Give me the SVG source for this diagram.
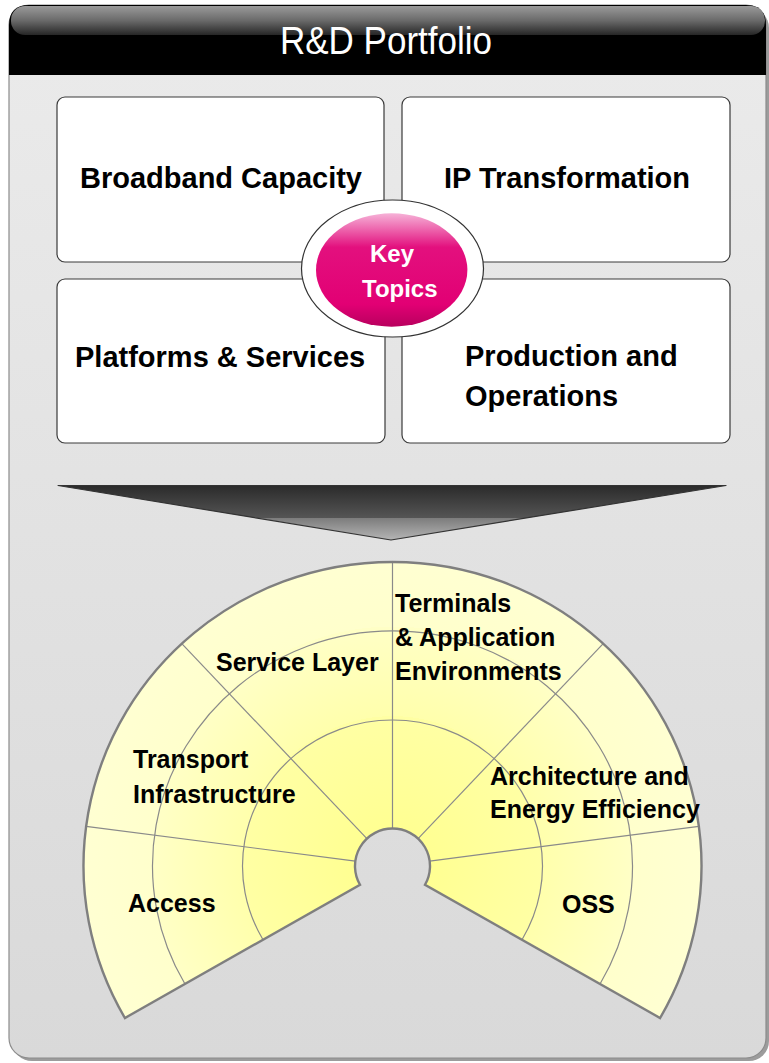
<svg xmlns="http://www.w3.org/2000/svg" width="769" height="1063" viewBox="0 0 769 1063">
  <defs>
    <linearGradient id="gPanel" x1="0" y1="0" x2="0" y2="1">
      <stop offset="0" stop-color="#EBEBEB"/>
      <stop offset="1" stop-color="#D9D9D9"/>
    </linearGradient>
    <linearGradient id="gGloss" x1="0" y1="0" x2="0" y2="1">
      <stop offset="0" stop-color="#9A9A9A"/>
      <stop offset="0.5" stop-color="#6A6A6A"/>
      <stop offset="1" stop-color="#262626"/>
    </linearGradient>
    <linearGradient id="gArrow" x1="0" y1="485" x2="0" y2="540" gradientUnits="userSpaceOnUse">
      <stop offset="0" stop-color="#2A2A2A"/>
      <stop offset="0.6" stop-color="#555555"/>
      <stop offset="0.6" stop-color="#7C7C7C"/>
      <stop offset="1" stop-color="#B5B5B5"/>
    </linearGradient>
    <linearGradient id="gKey" x1="0" y1="213" x2="0" y2="327" gradientUnits="userSpaceOnUse">
      <stop offset="0" stop-color="#F6B3D8"/>
      <stop offset="0.3" stop-color="#E3107E"/>
      <stop offset="0.8" stop-color="#E20074"/>
      <stop offset="1" stop-color="#B8005E"/>
    </linearGradient>
    <radialGradient id="gFan" cx="392.5" cy="866" r="309" fx="392.5" fy="866" gradientUnits="userSpaceOnUse">
      <stop offset="0.12" stop-color="#FFFF92"/>
      <stop offset="0.485" stop-color="#FFFFA4"/>
      <stop offset="0.485" stop-color="#FFFFAC"/>
      <stop offset="0.775" stop-color="#FFFFC6"/>
      <stop offset="0.775" stop-color="#FFFFCC"/>
      <stop offset="1" stop-color="#FFFFD2"/>
    </radialGradient>
    <style>
      .box { fill: #FFFFFF; stroke: #3A3A3A; stroke-width: 1.2; }
      .boxtxt { font-family: "Liberation Sans", Arial, sans-serif; font-weight: bold; font-size: 29px; fill: #000000; }
      .fantxt { font-family: "Liberation Sans", Arial, sans-serif; font-weight: bold; font-size: 25px; fill: #000000; }
      .keytxt { font-family: "Liberation Sans", Arial, sans-serif; font-weight: bold; font-size: 24px; fill: #FFFFFF; }
      .ring { fill: none; stroke: #8A8A8A; stroke-width: 1.2; }
      .div { stroke: #8A8A8A; stroke-width: 1.2; }
    </style>
  </defs>

  <g id="panel">
    <rect x="12" y="8" width="757" height="1053" rx="20" fill="#9C9C9C"/>
    <rect x="9" y="5" width="757" height="1053" rx="20" fill="url(#gPanel)" stroke="#8C8C8C" stroke-width="1.2"/>
  </g>

  <g id="header">
    <path d="M 9 75 L 9 25 Q 9 5 29 5 L 746 5 Q 766 5 766 25 L 766 75 Z" fill="#000000"/>
    <rect x="11" y="6" width="754" height="29" rx="14" fill="url(#gGloss)"/>
    <text x="280" y="54" font-family="Liberation Sans, Arial, sans-serif" font-size="39" fill="#FFFFFF" textLength="212" lengthAdjust="spacingAndGlyphs">R&amp;D Portfolio</text>
  </g>

  <g id="node-broadband">
    <rect class="box" x="57" y="97" width="327" height="165" rx="8"/>
    <text class="boxtxt" x="221" y="188" text-anchor="middle">Broadband Capacity</text>
  </g>
  <g id="node-ip">
    <rect class="box" x="402" y="97" width="328" height="165" rx="8"/>
    <text class="boxtxt" x="444" y="188">IP Transformation</text>
  </g>
  <g id="node-platforms">
    <rect class="box" x="57" y="279" width="328" height="164" rx="8"/>
    <text class="boxtxt" x="75" y="367">Platforms &amp; Services</text>
  </g>
  <g id="node-production">
    <rect class="box" x="402" y="279" width="328" height="164" rx="8"/>
    <text class="boxtxt" x="465" y="366">Production and</text>
    <text class="boxtxt" x="465" y="406">Operations</text>
  </g>

  <g id="node-keytopics">
    <ellipse cx="392.5" cy="268.5" rx="91" ry="68.5" fill="#FFFFFF" stroke="#333333" stroke-width="1.2"/>
    <ellipse cx="391.7" cy="270" rx="75.7" ry="56.7" fill="url(#gKey)"/>
    <text class="keytxt" x="370" y="262">Key</text>
    <text class="keytxt" x="362" y="297">Topics</text>
  </g>

  <g id="connectors">
    <path d="M 58 485.5 L 726 485.5 L 391 540 Z" fill="url(#gArrow)" stroke="#333333" stroke-width="1.2" stroke-linejoin="round"/>
  </g>

  <g id="fan">
    <path d="M 124.9 1018 A 309 304 0 1 1 660.1 1018 L 425 884.75 A 37.5 37.5 0 1 0 360 884.75 Z" fill="url(#gFan)"/>
    <path class="ring" d="M 184.7 983.5 A 240 235 0 1 1 600.3 983.5"/>
    <path class="ring" d="M 262.6 939 A 150 146 0 1 1 522.4 939"/>
    <line class="div" x1="429.7" y1="861.1" x2="698.9" y2="826.3"/>
    <line class="div" x1="355.3" y1="861.1" x2="86.1" y2="826.3"/>
    <line class="div" x1="418.1" y1="838.6" x2="603.2" y2="643.7"/>
    <line class="div" x1="366.9" y1="838.6" x2="181.8" y2="643.7"/>
    <line class="div" x1="392.5" y1="828.5" x2="392.5" y2="562"/>
    <path d="M 124.9 1018 A 309 304 0 1 1 660.1 1018 L 425 884.75 A 37.5 37.5 0 1 0 360 884.75 Z" fill="none" stroke="#7F7F7F" stroke-width="2.4" stroke-linejoin="miter"/>
  </g>

  <g id="sector-access">
    <text class="fantxt" x="128" y="912">Access</text>
  </g>
  <g id="sector-transport">
    <text class="fantxt" x="133" y="768">Transport</text>
    <text class="fantxt" x="133" y="803">Infrastructure</text>
  </g>
  <g id="sector-service">
    <text class="fantxt" x="216" y="671">Service Layer</text>
  </g>
  <g id="sector-terminals">
    <text class="fantxt" x="395" y="612">Terminals</text>
    <text class="fantxt" x="395" y="646">&amp; Application</text>
    <text class="fantxt" x="395" y="680">Environments</text>
  </g>
  <g id="sector-architecture">
    <text class="fantxt" x="490" y="785">Architecture and</text>
    <text class="fantxt" x="490" y="818">Energy Efficiency</text>
  </g>
  <g id="sector-oss">
    <text class="fantxt" x="562" y="913">OSS</text>
  </g>
</svg>
